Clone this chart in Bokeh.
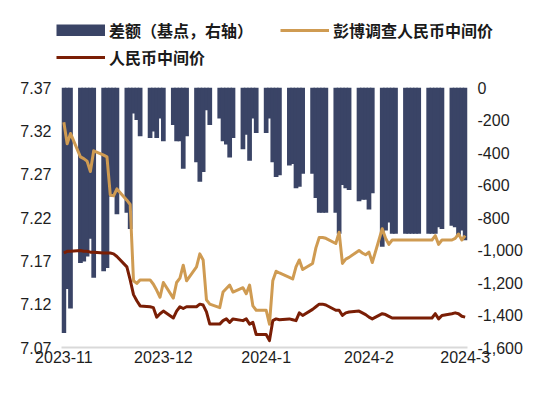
import numpy as np
import pandas as pd
from bokeh.plotting import figure
from bokeh.layouts import column
from bokeh.models import (Range1d, LinearAxis, FixedTicker, NumeralTickFormatter,
                          Legend, LegendItem)
from bokeh.embed import file_html
from bokeh.resources import INLINE

# ---------------- data ----------------
dates = pd.bdate_range("2023-11-01", "2024-03-01")  # trading days (weekdays)

bloomberg = [
    # 2023-11
    7.330, 7.305, 7.317, 7.290, 7.288, 7.285, 7.273, 7.297, 7.292, 7.290, 7.246,
    7.245, 7.253, 7.240, 7.235, 7.147, 7.144, 7.148, 7.148, 7.143, 7.136, 7.128,
    # 2023-12
    7.145, 7.127, 7.145, 7.150, 7.165, 7.147, 7.163, 7.178, 7.171, 7.125, 7.120,
    7.116, 7.134, 7.138, 7.142, 7.134, 7.139, 7.132, 7.142, 7.118, 7.113,
    # 2024-01
    7.113, 7.097, 7.147, 7.158, 7.156, 7.151, 7.149, 7.163, 7.171, 7.160, 7.167,
    7.185, 7.197, 7.197, 7.196, 7.190, 7.203, 7.167, 7.172, 7.174, 7.182, 7.179, 7.177,
    # 2024-02
    7.180, 7.168, 7.207, 7.196, 7.189, 7.194, 7.194, 7.194, 7.194, 7.194, 7.194,
    7.194, 7.194, 7.194, 7.199, 7.189, 7.194, 7.194, 7.196, 7.201, 7.194,
    # 2024-03
    7.199,
]

fixing = [
    # 2023-11
    7.179, 7.181, 7.181, 7.182, 7.181, 7.181, 7.180, 7.180, 7.179, 7.179, 7.179,
    7.178, 7.175, 7.163, 7.148, 7.131, 7.124, 7.118, 7.117, 7.116, 7.105, 7.109,
    # 2023-12
    7.112, 7.104, 7.112, 7.117, 7.115, 7.117, 7.117, 7.120, 7.119, 7.111, 7.097,
    7.097, 7.101, 7.103, 7.099, 7.103, 7.101, 7.103, 7.097, 7.099, 7.085,
    # 2024-01
    7.085, 7.078, 7.101, 7.103, 7.102, 7.103, 7.102, 7.101, 7.110, 7.107, 7.114,
    7.117, 7.120, 7.120, 7.119, 7.113, 7.113, 7.107, 7.110, 7.111, 7.112, 7.110, 7.108,
    # 2024-02
    7.105, 7.103, 7.109, 7.108, 7.106, 7.104, 7.104, 7.104, 7.104, 7.104, 7.104,
    7.104, 7.104, 7.104, 7.109, 7.103, 7.107, 7.109, 7.110, 7.109, 7.106,
    # 2024-03
    7.105,
]

spread_bp = [
    # 2023-11
    -1510, -1240, -1360, -1080, -1070, -1040, -930, -1170, -1130, -1110, -670,
    -670, -780, -770, -870, -160, -200, -300, -310, -270, -310, -190,
    # 2023-12
    -330, -230, -330, -330, -500, -300, -460, -580, -520, -140, -230,
    -190, -330, -350, -430, -310, -380, -290, -450, -190, -280,
    # 2024-01
    -280, -190, -460, -550, -540, -480, -470, -620, -610, -530, -530,
    -680, -770, -770, -770, -770, -900, -600, -620, -630, -700, -690, -690,
    # 2024-02
    -750, -650, -980, -880, -830, -900, -900, -900, -900, -900, -900,
    -900, -900, -900, -900, -860, -870, -850, -860, -920, -880,
    # 2024-03
    -940,
]

x_tick_dates = ["2023-11-01", "2023-12-01", "2024-01-01", "2024-02-01", "2024-03-01"]
x_tick_labels = ["2023-11", "2023-12", "2024-1", "2024-2", "2024-3"]
left_ticks = [7.07, 7.12, 7.17, 7.22, 7.27, 7.32, 7.37]
right_ticks = [-1600, -1400, -1200, -1000, -800, -600, -400, -200, 0]

series_names = ["差额（基点，右轴）", "彭博调查人民币中间价", "人民币中间价"]

# ---------------- styles ----------------
NAVY = "#3a4466"
GOLD = "#cf9b52"
RED = "#7a1e05"
TICK_FONT = "Liberation Sans"
TICK_COLOR = "#1e1e1e"
CJK_FONT = "Noto Sans CJK SC"
W = 545
LEG_H = 77

DAY_MS = 24 * 3600 * 1000
x_start = dates[0] - pd.Timedelta(hours=17)
x_end = dates[-1] + pd.Timedelta(hours=17)

p = figure(width=W, height=313, x_axis_type="datetime",
           x_range=Range1d(x_start, x_end), y_range=Range1d(7.07, 7.37),
           output_backend="svg", toolbar_location=None,
           min_border_left=61, min_border_right=78, min_border_top=10,
           min_border_bottom=43)
p.extra_y_ranges = {"right": Range1d(-1600, 0)}
p.outline_line_color = None
p.xgrid.visible = False
p.ygrid.visible = False
p.background_fill_color = "white"
p.border_fill_color = "white"
p.frame_align = False

bars = p.vbar(x=dates, top=0, bottom=spread_bp, width=1.42 * DAY_MS,
              fill_color=NAVY, line_color=None, y_range_name="right")
gold = p.line(x=dates, y=bloomberg, line_color=GOLD, line_width=3,
              line_join="round")
red = p.line(x=dates, y=fixing, line_color=RED, line_width=3, line_join="round")

# x axis
xax = p.xaxis[0]
tick_ms = [pd.Timestamp(d).value / 1e6 for d in x_tick_dates]
xax.ticker = FixedTicker(ticks=tick_ms)
xax.major_label_overrides = {t: lab for t, lab in zip(tick_ms, x_tick_labels)}
xax.axis_line_color = "#d9d9d9"
xax.axis_line_width = 2
xax.major_tick_line_color = None
xax.minor_tick_line_color = None
xax.major_tick_out = 0
xax.major_tick_in = 0
xax.major_label_standoff = 3
xax.major_label_text_font = TICK_FONT
xax.major_label_text_font_size = "16px"
xax.major_label_text_color = TICK_COLOR

# left y axis
yax = p.yaxis[0]
yax.ticker = FixedTicker(ticks=left_ticks)
yax.formatter = NumeralTickFormatter(format="0.00")
yax.axis_line_color = None
yax.major_tick_line_color = None
yax.minor_tick_line_color = None
yax.major_tick_out = 0
yax.major_tick_in = 0
yax.major_label_standoff = 10
yax.major_label_text_font = TICK_FONT
yax.major_label_text_font_size = "16px"
yax.major_label_text_color = TICK_COLOR

# right y axis
rax = LinearAxis(y_range_name="right", ticker=FixedTicker(ticks=right_ticks),
                 formatter=NumeralTickFormatter(format="0,0"))
rax.axis_line_color = None
rax.major_tick_line_color = None
rax.minor_tick_line_color = None
rax.major_tick_out = 0
rax.major_tick_in = 0
rax.major_label_standoff = 10
rax.major_label_text_font = TICK_FONT
rax.major_label_text_font_size = "16px"
rax.major_label_text_color = TICK_COLOR
p.add_layout(rax, "right")

# ---------------- legend strip (separate small figure) ----------------
lg = figure(width=W, height=LEG_H, x_range=Range1d(0, 1), y_range=Range1d(0, 1),
            output_backend="svg", toolbar_location=None,
            x_axis_location=None, y_axis_location=None,
            min_border_left=0, min_border_right=0, min_border_top=0,
            min_border_bottom=0)
lg.outline_line_color = None
lg.xgrid.visible = False
lg.ygrid.visible = False
lg.border_fill_color = "white"
lg.frame_align = False

# invisible proxies (NaN data) that only provide the legend swatches
sw_bar = lg.line(x=[np.nan], y=[np.nan], line_color=NAVY, line_width=12)
sw_gold = lg.line(x=[np.nan], y=[np.nan], line_color=GOLD, line_width=3)
sw_red = lg.line(x=[np.nan], y=[np.nan], line_color=RED, line_width=3)


def style_legend(l):
    l.border_line_color = None
    l.background_fill_alpha = 0
    l.padding = 0
    l.margin = 0
    l.glyph_width = 49
    l.glyph_height = 12
    l.label_standoff = 4
    l.label_text_font = CJK_FONT
    l.label_text_font_size = "16px"
    l.label_text_font_style = "bold"
    l.label_text_color = "#1a1a1a"
    l.spacing = 27


legend1 = Legend(items=[LegendItem(label=series_names[0], renderers=[sw_bar]),
                        LegendItem(label=series_names[1], renderers=[sw_gold])],
                 orientation="horizontal", location=(56, 35))
legend2 = Legend(items=[LegendItem(label=series_names[2], renderers=[sw_red])],
                 orientation="horizontal", location=(56, 8))
style_legend(legend1)
style_legend(legend2)
lg.add_layout(legend1, "center")
lg.add_layout(legend2, "center")

layout = column(lg, p, spacing=0)
open("out.html", "w").write(file_html(layout, INLINE))
